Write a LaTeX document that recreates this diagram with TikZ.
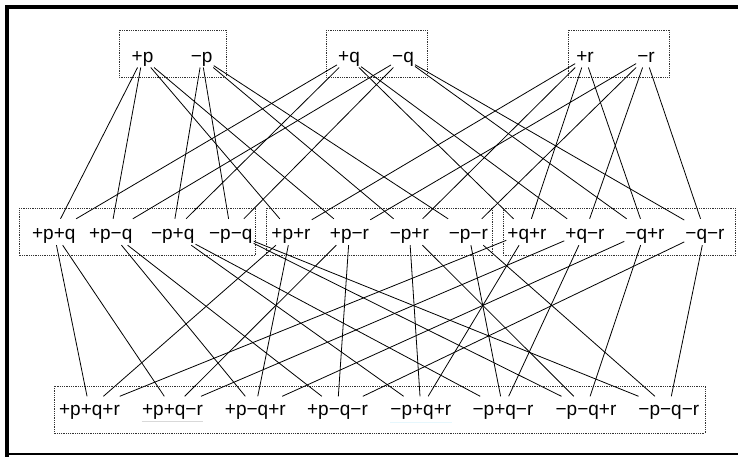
\documentclass[tikz,border=0pt]{standalone}
\usepackage{fontspec}
\setmainfont{Liberation Sans}
\newcommand\labfont{\fontsize{19}{22}\selectfont}
\begin{document}
\begin{tikzpicture}[x=1pt,y=-1pt,
  lab/.style={font=\labfont, anchor=base, inner xsep=1pt, inner ysep=0pt},
  toplab/.style={lab, text height=14pt, text depth=5pt},
  midlab/.style={lab, text height=20pt, text depth=6pt},
  botlab/.style={lab, text height=19pt, text depth=5pt},
  dotbox/.style={densely dotted, line width=0.8pt, black!80},
  wire/.style={line width=0.8pt, black}]
\useasboundingbox (0,0) rectangle (738,457);
% frame
\draw[line width=3.6pt] (6.8,457) -- (6.8,6.8) -- (738,6.8);
\draw[line width=2pt] (6.8,454.3) -- (738,454.3);
% dotted boxes
\draw[dotbox] (119,30) rectangle (226,77);
\draw[dotbox] (326,30) rectangle (427,77);
\draw[dotbox] (568,30) rectangle (669.5,77);
\draw[dotbox] (19,208.3) rectangle (255.5,255.7);
\draw[dotbox] (266.7,208.3) rectangle (492.7,255.7);
\draw[dotbox] (503.3,208.3) rectangle (735,255.7);
\draw[dotbox] (54,386) rectangle (705,433.3);
% top
\node[toplab] (p1) at (142.5,62.3) {+p};
\node[toplab] (p0) at (201.7,62.3) {−p};
\node[toplab] (q1) at (349,62.3) {+q};
\node[toplab] (q0) at (403,62.3) {−q};
\node[toplab] (r1) at (585,62.3) {+r};
\node[toplab] (r0) at (646,62.3) {−r};
% middle
\node[midlab] (p1q1) at (53.8,239) {+p+q};
\node[midlab] (p1q0) at (110.7,239) {+p−q};
\node[midlab] (p0q1) at (172.7,239) {−p+q};
\node[midlab] (p0q0) at (230.8,239) {−p−q};
\node[midlab] (p1r1) at (291,239) {+p+r};
\node[midlab] (p1r0) at (349.5,239) {+p−r};
\node[midlab] (p0r1) at (409.3,239) {−p+r};
\node[midlab] (p0r0) at (468.3,239) {−p−r};
\node[midlab] (q1r1) at (527,239) {+q+r};
\node[midlab] (q1r0) at (585,239) {+q−r};
\node[midlab] (q0r1) at (645,239) {−q+r};
\node[midlab] (q0r0) at (705,239) {−q−r};
% bottom
\node[botlab] (p1q1r1) at (89.5,415.5) {+p+q+r};
\node[botlab] (p1q1r0) at (172.5,415.5) {+p+q−r};
\node[botlab] (p1q0r1) at (255.3,415.5) {+p−q+r};
\node[botlab] (p1q0r0) at (337.5,415.5) {+p−q−r};
\node[botlab] (p0q1r1) at (420.8,415.5) {−p+q+r};
\node[botlab] (p0q1r0) at (503,415.5) {−p+q−r};
\node[botlab] (p0q0r1) at (586,415.5) {−p−q+r};
\node[botlab] (p0q0r0) at (668.8,415.5) {−p−q−r};
% faint underlines
\draw[black!15, line width=0.7pt] (141.7,421.7) -- (203.3,421.7);
\draw[cyan!10, line width=0.7pt] (390,422) -- (451.7,422);
% top to middle
\foreach \a/\b in {p1/p1q1,p1/p1q0,p1/p1r1,p1/p1r0,
                   p0/p0q1,p0/p0q0,p0/p0r1,p0/p0r0,
                   q1/p1q1,q1/p0q1,q1/q1r1,q1/q1r0,
                   q0/p1q0,q0/p0q0,q0/q0r1,q0/q0r0,
                   r1/p1r1,r1/p0r1,r1/q1r1,r1/q0r1,
                   r0/p1r0,r0/p0r0,r0/q1r0,r0/q0r0}
  \draw[wire] (\a) -- (\b);
% middle to bottom
\foreach \a/\b in {p1q1/p1q1r1,p1q1/p1q1r0,
                   p1q0/p1q0r1,p1q0/p1q0r0,
                   p0q1/p0q1r1,p0q1/p0q1r0,
                   p0q0/p0q0r1,p0q0/p0q0r0,
                   p1r1/p1q1r1,p1r1/p1q0r1,
                   p1r0/p1q1r0,p1r0/p1q0r0,
                   p0r1/p0q1r1,p0r1/p0q0r1,
                   p0r0/p0q1r0,p0r0/p0q0r0,
                   q1r1/p1q1r1,q1r1/p0q1r1,
                   q1r0/p1q1r0,q1r0/p0q1r0,
                   q0r1/p1q0r1,q0r1/p0q0r1,
                   q0r0/p1q0r0,q0r0/p0q0r0}
  \draw[wire] (\a) -- (\b);
\end{tikzpicture}
\end{document}
